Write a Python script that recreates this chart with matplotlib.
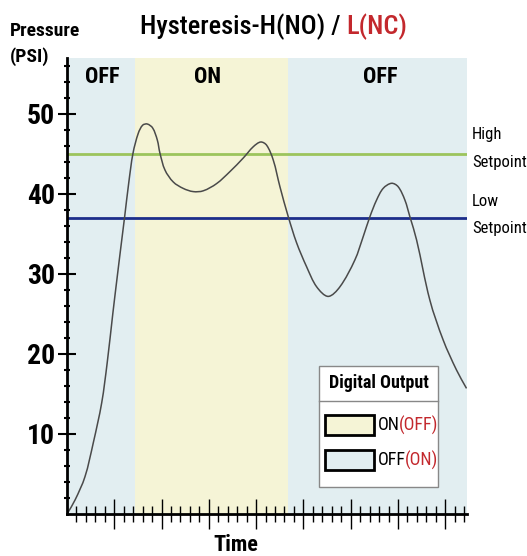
import numpy as np
import matplotlib
matplotlib.use("Agg")
import matplotlib.pyplot as plt
from matplotlib.patches import Rectangle, PathPatch
from matplotlib.path import Path

plt.rcParams['font.family'] = ['Roboto Condensed', 'Archivo Narrow', 'Liberation Sans', 'DejaVu Sans']

# data (time in minor-tick units, pressure in PSI)
time = [0.0, 0.85, 1.90, 2.78, 3.67, 4.25, 4.85, 5.27, 5.70, 6.10, 6.53, 6.98,
        7.54, 8.00, 8.49, 9.06, 9.55, 9.83, 10.36, 11.24, 12.29, 13.35, 14.41,
        15.82, 17.23, 18.64, 19.69, 20.48, 21.11, 21.81, 22.52, 23.39, 24.28,
        25.34, 26.40, 27.62, 28.86, 30.44, 31.32, 32.03, 32.74, 33.44, 34.32,
        35.02, 35.73, 36.26, 36.97, 38.37, 39.78, 41.19, 42.25]
pressure = [0.0, 1.75, 4.66, 8.9, 13.9, 18.9, 25.1, 29.25, 33.4, 37.2, 41.4, 45.1,
            47.6, 48.6, 48.75, 48.25, 46.75, 45.1, 43.0, 41.5, 40.7, 40.3, 40.4,
            41.3, 42.8, 44.5, 45.9, 46.5, 46.1, 44.25, 40.9, 37.2, 33.9,
            30.9, 28.4, 27.2, 28.4, 31.75, 34.66, 37.16, 39.25, 40.71, 41.34,
            40.91, 39.25, 37.16, 34.25, 26.75, 21.75, 18.0, 15.7]
high_setpoint = 45
low_setpoint = 37
regions = [(0, 7.19, 'OFF'), (7.19, 23.36, 'ON'), (23.36, 42.3, 'OFF')]
region_label_x = [3.7, 14.9, 33.1]
yticks = [10, 20, 30, 40, 50]

blue_bg = '#e2eef1'
yellow_bg = '#f5f4d6'
red = '#c3282d'

W, H = 527, 556
fig = plt.figure(figsize=(W / 100, H / 100), dpi=100)
ax = fig.add_axes([67 / W, 1 - 514 / H, 400 / W, 456 / H])

for (x0, x1, lab), lx in zip(regions, region_label_x):
    ax.axvspan(x0, x1, color=yellow_bg if lab == 'ON' else blue_bg, lw=0, zorder=0)
    ax.text(lx, 54.6, lab, ha='center', va='center', fontsize=16, fontweight='bold')

ax.axhline(high_setpoint, color='#9cc45c', lw=2, zorder=1)
ax.axhline(low_setpoint, color='#1c2d8a', lw=2, zorder=1)

# smooth curve through the read points: chord-length Catmull-Rom drawn as Beziers
pts = np.column_stack([time, pressure])
scale = np.array([9.46, 8.0])  # screen px per data unit, for the chord lengths
d = np.sqrt((np.diff(pts * scale, axis=0) ** 2).sum(axis=1))
t = np.concatenate([[0], np.cumsum(d)])
tang = np.zeros_like(pts)
tang[1:-1] = (pts[2:] - pts[:-2]) / (t[2:] - t[:-2])[:, None]
tang[0] = (pts[1] - pts[0]) / d[0]
tang[-1] = (pts[-1] - pts[-2]) / d[-1]
verts = [pts[0]]
codes = [Path.MOVETO]
for i in range(len(pts) - 1):
    h = d[i] / 3
    verts += [pts[i] + tang[i] * h, pts[i + 1] - tang[i + 1] * h, pts[i + 1]]
    codes += [Path.CURVE4] * 3
ax.add_patch(PathPatch(Path(verts, codes), fc='none', ec='#4a4a4a', lw=1.1, zorder=2))

ax.set_xlim(0, 42.3)
ax.set_ylim(0, 57)
for s in ['top', 'right']:
    ax.spines[s].set_visible(False)
for s in ['left', 'bottom']:
    ax.spines[s].set_linewidth(2)

ax.set_yticks(yticks)
ax.set_yticks(np.arange(2, 57, 2), minor=True)
ax.set_xticks(np.arange(5, 42.3, 5))
ax.set_xticks(np.arange(1, 42.3, 1), minor=True)
ax.set_xticklabels([])
ax.tick_params(axis='y', which='major', direction='inout', length=13, width=1.5,
               labelsize=20, pad=2)
ax.tick_params(axis='y', which='minor', direction='inout', length=5, width=1.5)
ax.tick_params(axis='x', which='major', direction='inout', length=22, width=1)
ax.tick_params(axis='x', which='minor', direction='inout', length=12, width=1)
for lbl in ax.get_yticklabels():
    lbl.set_fontweight('bold')

# axis texts
fig.text(10 / W, 1 - 31 / H, 'Pressure', fontsize=14, fontweight='bold', va='center')
fig.text(10 / W, 1 - 57 / H, '(PSI)', fontsize=14, fontweight='bold', va='center')
fig.text(236 / W, 1 - 545 / H, 'Time', fontsize=16, fontweight='bold',
         ha='center', va='center')

for y0, y1, l1 in [(134, 162, 'High'), (202, 228, 'Low')]:
    fig.text(472 / W, 1 - y0 / H, l1, fontsize=12, va='center')
    fig.text(472 / W, 1 - y1 / H, 'Setpoint', fontsize=12, va='center')

# title in two colours
renderer = fig.canvas.get_renderer()
t1 = fig.text(140 / W, 1 - 27 / H, 'Hysteresis-H(NO) / ', fontsize=19,
              fontweight='medium', va='center')
bb = t1.get_window_extent(renderer)
fig.text(bb.x1 / W, 1 - 27 / H, 'L(NC)', fontsize=19, fontweight='medium',
         va='center', color=red)


def fx(px):
    return px / W


def fy(py):
    return 1 - py / H


# digital output key box
fig.patches.append(Rectangle((fx(319), fy(487)), fx(438) - fx(319), fy(366) - fy(487),
                             transform=fig.transFigure, fc='white', ec='#888888',
                             lw=1, zorder=5))
fig.lines.append(plt.Line2D([fx(319), fx(438)], [fy(401), fy(401)],
                            transform=fig.transFigure, color='#888888', lw=1, zorder=6))
fig.text(fx(379), fy(383), 'Digital Output', fontsize=13, fontweight='bold',
         ha='center', va='center', zorder=7)
for (y0, c, a, b) in [(415, yellow_bg, 'ON', '(OFF)'), (450, blue_bg, 'OFF', '(ON)')]:
    fig.patches.append(Rectangle((fx(325), fy(y0 + 20)), fx(374) - fx(325), fy(y0) - fy(y0 + 20),
                                 transform=fig.transFigure, fc=c, ec='black',
                                 lw=2, zorder=7))
    ta = fig.text(fx(378), fy(y0 + 10), a, fontsize=13, va='center', zorder=7)
    bb = ta.get_window_extent(renderer)
    fig.text((bb.x1 - 1) / W, fy(y0 + 10), b, fontsize=13, va='center', color=red, zorder=7)

fig.savefig('out.png', dpi=100)
